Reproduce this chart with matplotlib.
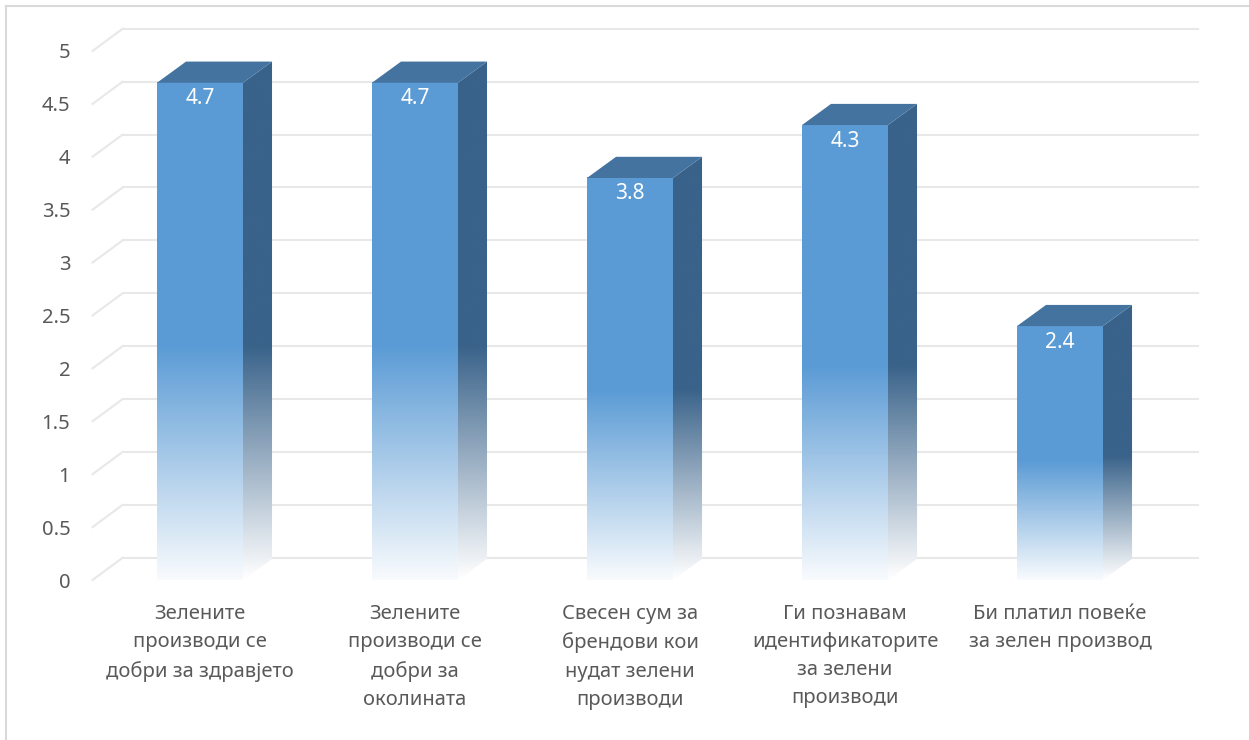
import numpy as np
import matplotlib.pyplot as plt
from matplotlib.patches import Polygon
from matplotlib.lines import Line2D
from matplotlib.colors import to_rgb

plt.rcParams['font.family'] = ['Noto Sans', 'DejaVu Sans']

categories = ["Зелените\nпроизводи се\nдобри за здравјето",
              "Зелените\nпроизводи се\nдобри за\nоколината",
              "Свесен сум за\nбрендови кои\nнудат зелени\nпроизводи",
              "Ги познавам\nидентификаторите\nза зелени\nпроизводи",
              "Би платил повеќе\nза зелен производ"]
values = [4.7, 4.7, 3.8, 4.3, 2.4]
yticks = np.arange(0, 5.01, 0.5)

W, H = 1249, 740
fig = plt.figure(figsize=(W/100, H/100), dpi=100)
# front plane of the plot
ax = fig.add_axes([92.5/W, 1-580/H, 1075/W, 529/H])

front_c = '#5B9BD5'
side_c = '#3A638A'
top_c = '#4473A0'
grid_c = '#E8E8E8'
txt_c = '#595959'

# depth offsets (data units)
wdx, wdy = 0.14, 0.21
bdx, bdy = 0.135, 0.20
bw = 0.4

# back wall gridlines + floor diagonals
for v in yticks:
    ax.add_line(Line2D([-0.5 + wdx, 4.5 + wdx], [v + wdy, v + wdy], color=grid_c,
                       lw=1.5, zorder=0, clip_on=False))
    ax.add_line(Line2D([-0.5, -0.5 + wdx], [v, v + wdy], color=grid_c,
                       lw=1.5, zorder=0, clip_on=False))


def grad_img(color, n=256, start=0.47, low=0.04):
    t = np.linspace(0, 1, n)
    m = low + (1 - low) * np.clip(t / start, 0, 1)
    c = np.array(to_rgb(color))
    rgb = 1 - (1 - c)[None, :] * m[:, None]
    return rgb[::-1, None, :]


for i, h in enumerate(values):
    x0, x1 = i - bw/2, i + bw/2
    # front face
    ax.imshow(grad_img(front_c), extent=[x0, x1, 0, h], aspect='auto',
              interpolation='bilinear', zorder=3)
    # side face
    side = Polygon([(x1, 0), (x1 + bdx, bdy), (x1 + bdx, h + bdy), (x1, h)],
                   closed=True, facecolor='none', edgecolor='none')
    ax.add_patch(side)
    im = ax.imshow(grad_img(side_c, start=0.45, low=0.0), extent=[x1, x1 + bdx, 0, h + bdy],
                   aspect='auto', interpolation='bilinear', zorder=2)
    im.set_clip_path(side)
    # top face
    ax.add_patch(Polygon([(x0, h), (x1, h), (x1 + bdx, h + bdy), (x0 + bdx, h + bdy)],
                         closed=True, facecolor=top_c, edgecolor='none', zorder=3))
    ax.annotate('{:g}'.format(h), (i, h), xytext=(0, -11.5), textcoords='offset points',
                ha='center', va='center', color='white', fontsize=15, zorder=5)

ax.set_xlim(-0.5, 4.5)
ax.set_ylim(0, 5)
ax.set_xticks(range(len(categories)), categories)
ax.set_yticks(yticks, ['{:g}'.format(v) for v in yticks])
ax.tick_params(axis='y', length=0, pad=16, labelsize=14.5, labelcolor=txt_c)
ax.tick_params(axis='x', length=0, pad=17, labelsize=14.5, labelcolor=txt_c)
for lab in ax.get_xticklabels():
    lab.set_linespacing(1.55)
for s in ax.spines.values():
    s.set_visible(False)
ax.patch.set_alpha(0)

# chart border (top and left visible)
fig.add_artist(Line2D([6/W, 1], [1-6/H, 1-6/H], color='#D9D9D9', lw=1.5))
fig.add_artist(Line2D([6/W, 6/W], [0, 1-6/H], color='#D9D9D9', lw=1.5))

fig.savefig('out.png', dpi=100)
